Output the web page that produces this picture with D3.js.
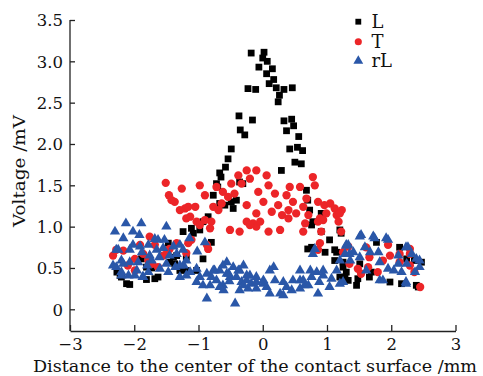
<!DOCTYPE html>
<html><head><meta charset="utf-8">
<script src="https://cdn.jsdelivr.net/npm/d3@7"></script>
<style>body{margin:0;background:#fff}svg{display:block}</style>
</head><body>
<svg id="c" width="483" height="376"></svg>
<script>
const xTicks=[-3,-2,-1,0,1,2,3];
const yTicks=[0,0.5,1,1.5,2,2.5,3,3.5];
const seriesNames=["L","T","rL"];
const dataL=[[-0.18,3.10],[0.02,3.11],[0.00,3.04],[0.07,3.00],[-0.06,2.93],[0.15,2.91],[0.06,2.85],[0.17,2.78],[0.10,2.73],[0.21,2.68],[0.33,2.66],[0.46,2.68],[0.26,2.59],[0.24,2.51],[-0.23,2.67],[-0.11,2.66],[-0.37,2.34],[-0.16,2.29],[-0.35,2.17],[-0.28,2.11],[-0.49,1.94],[-0.54,1.82],[-0.58,1.72],[-0.67,1.65],[-0.65,1.60],[0.33,2.28],[0.45,2.30],[0.48,2.22],[0.37,2.16],[0.56,2.09],[0.42,1.94],[0.54,1.96],[0.62,1.92],[0.50,1.78],[0.60,1.76],[0.29,1.68],
[-0.70,1.48],[-0.77,1.38],[-0.49,1.30],[-0.59,1.26],[-0.85,1.12],[-0.93,1.06],[-1.24,0.94],[-1.08,0.92],[-0.80,0.81],[-0.93,0.61],[-1.19,0.63],[-1.19,0.47],[-0.72,1.52],[-0.36,1.54],[-0.31,1.52],[-0.46,1.22],[-0.41,1.32],[-0.67,1.28],[-1.11,0.98],[-0.98,0.96],[-1.03,0.47],
[-1.39,0.63],[-1.89,0.61],[-1.81,0.51],[-1.68,0.37],[-2.12,0.31],[-2.07,0.30],[-2.20,0.39],[-2.27,0.45],[-1.81,0.36],[-1.63,0.39],[-1.47,0.80],[-1.45,0.57],[-1.37,0.55],[-1.34,0.65],[-1.29,0.47],[-1.73,0.50],[-2.22,0.41],
[0.70,1.32],[0.73,1.20],[0.91,1.16],[0.78,1.06],[0.91,0.94],[1.04,0.84],[0.76,0.75],[0.97,0.69],[1.12,0.72],[1.20,0.96],[1.25,0.51],[1.20,0.39],[0.76,1.02],[0.70,0.73],[1.15,0.69],[1.12,0.59],[1.22,0.92],[1.25,0.57],[1.51,0.55],[1.69,0.45],[1.66,0.39],[1.46,0.29],[1.98,0.33],[2.16,0.31],[2.39,0.29],[2.13,0.75],[2.47,0.57],[2.24,0.61],[1.77,0.81],[1.28,0.39],[1.48,0.37],[1.30,0.45],[1.33,0.35],[2.36,0.59],[2.42,0.27],[0.68,1.44]];
const dataT=[[-1.51,1.53],[-1.26,1.46],[-0.98,1.50],[-1.46,1.38],[-1.37,1.30],[-1.21,1.22],[-1.13,1.12],[-1.03,1.06],[-0.80,1.06],[-0.72,1.48],[-0.62,1.42],[-0.49,1.52],[-0.38,1.62],[-0.25,1.68],[-0.10,1.68],[-0.20,1.58],[-0.33,1.52],[-0.54,1.36],[-0.44,1.40],[-0.64,1.28],[-0.77,1.24],[-0.69,1.20],[-0.25,1.26],[0.06,1.62],[0.09,1.50],[-0.07,1.42],[0.01,1.30],[0.19,1.40],[0.24,1.26],[0.14,1.18],[0.42,1.48],[0.37,1.38],[0.47,1.30],[0.40,1.20],[0.58,1.48],[0.78,1.60],[0.81,1.50],[0.68,1.34],[0.63,1.24],[0.52,1.16],[0.71,1.14],[0.86,1.30],[0.96,1.26],[1.05,1.28],[1.12,1.22],[1.23,1.20],[0.99,1.16],[1.15,1.14],[0.89,1.10],[0.94,1.08],[0.30,1.14],[0.40,1.10],[-0.10,1.16],[-0.25,1.06],[-0.15,1.04],
[-0.90,1.38],[-1.16,1.24],[-1.05,1.24],[-0.98,1.02],[-0.90,1.08],[-0.82,0.98],[-1.11,0.84],[-0.87,0.78],[-0.85,0.73],[-1.19,0.68],[-0.10,1.00],[-0.36,0.94],[-0.51,0.96],[0.09,0.94],[-0.20,1.02],[-0.04,1.06],
[0.27,0.96],[0.63,0.94],[0.86,1.06],[1.18,1.06],[1.22,0.94],[0.89,0.80],[0.86,0.72],[1.33,0.76],
[-1.29,1.20],[-1.19,1.10],[-1.76,0.88],[-2.33,0.65],[-2.17,0.71],[-1.99,0.61],[-1.86,0.67],[-2.10,0.53],[-1.99,0.47],[-1.45,0.73],[-1.68,0.78],[-1.91,0.78],[-1.63,0.51],[-1.78,0.59],[-1.50,0.67],[-1.34,0.80],[-1.16,0.80],[-2.28,0.72],[-1.55,0.65],[-1.72,0.55],[-1.42,1.32],
[1.20,1.16],[0.66,1.04],[0.91,0.94],[1.25,0.69],[1.35,0.55],[1.48,0.49],[1.64,0.51],[1.66,0.63],[1.87,0.59],[1.98,0.65],[2.13,0.67],[2.29,0.67],[2.13,0.57],[2.29,0.53],[2.45,0.27],[1.61,0.75],[1.79,0.45],[1.53,0.43],[1.95,0.78],[2.29,0.73],[2.36,0.45]];
const dataRL=[[-2.30,0.94],[-2.13,1.04],[-1.89,1.04],[-2.02,0.94],[-1.91,0.76],[-1.68,0.85],[-2.28,0.72],[-2.28,0.51],[-2.20,0.41],[-1.99,0.41],[-1.87,0.39],[-2.17,0.55],[-1.50,1.00],[-1.92,0.90],[-2.17,0.86],[-1.63,0.84],[-1.53,0.84],[-1.78,0.78],[-2.02,0.78],[-1.29,0.78],[-1.39,0.76],[-2.25,0.72],[-2.07,0.72],[-1.65,0.72],[-1.55,0.74],[-1.88,0.69],[-1.76,0.65],[-1.61,0.63],[-1.45,0.65],[-2.20,0.59],[-2.07,0.57],[-1.94,0.57],[-1.73,0.59],[-1.50,0.55],[-2.33,0.53],[-1.80,0.53],[-1.60,0.49],[-1.36,0.51],[-1.23,0.53],[-2.20,0.45],[-1.96,0.47],[-1.78,0.45],[-1.47,0.45],[-2.09,0.41],[-1.86,0.39],[-1.29,0.39],[-1.19,0.41],[-1.34,0.67],[-1.24,0.72],[-0.90,0.81],[-1.14,0.86],[-1.02,0.70],[-1.19,0.59],[-1.29,0.53],[-1.03,0.49],[-1.13,0.45],[-0.98,0.39],[-0.87,0.43],[-1.03,0.33],[-0.80,0.39],[-0.93,0.29],[-0.82,0.29],
[-0.75,0.47],[-0.56,0.57],[-0.67,0.47],[-0.72,0.35],[-0.62,0.29],[-0.46,0.51],[-0.30,0.53],[-0.51,0.39],[-0.41,0.39],[-0.33,0.33],[-0.87,0.13],[-0.43,0.07],[-0.25,0.35],[-0.18,0.31],[-0.10,0.39],[0.01,0.31],[-0.36,0.23],[-0.23,0.25],[-0.10,0.25],[0.06,0.27],[0.17,0.51],[0.19,0.35],[0.11,0.19],[0.27,0.19],[0.32,0.33],[0.37,0.27],[0.45,0.23],[0.47,0.35],[0.58,0.35],[0.65,0.29],[0.58,0.25],[0.76,0.39],[0.84,0.45],[0.78,0.67],[0.81,0.73],[0.01,0.35],[-0.61,0.23],[-0.53,0.43],[-0.36,0.47],[-0.52,0.34],[-0.20,0.41],[0.32,0.17],[0.58,0.47],[0.71,0.29],[0.94,0.41],[0.88,0.33],[1.07,0.37],[1.15,0.47],[1.20,0.59],[1.28,0.67],[1.30,0.77],[0.86,0.19],[1.04,0.27],[1.20,0.31],[0.63,0.35],[0.74,0.47],[0.94,0.47],[-0.77,0.47],[-0.62,0.53],[-0.56,0.43],[-0.38,0.47],[-0.25,0.41],[-0.67,0.27],[-0.30,0.29],[-0.10,0.33],[0.11,0.47],
[1.51,0.88],[1.72,0.88],[1.95,0.84],[1.30,0.78],[1.59,0.75],[2.26,0.75],[1.41,0.69],[1.67,0.69],[1.80,0.69],[2.11,0.65],[2.32,0.67],[2.39,0.61],[1.36,0.59],[1.82,0.57],[2.11,0.55],[2.24,0.55],[2.44,0.51],[1.61,0.47],[2.16,0.45],[2.37,0.45],[1.87,0.35],[2.23,0.33],[1.25,0.33],[2.04,0.47],[1.53,0.90],[1.74,0.86],[1.92,0.86],[2.23,0.75],[1.33,0.78],[1.35,0.67],[1.51,0.63],[1.95,0.49],[1.82,0.35],[2.23,0.31],[2.44,0.59]];

const FONT="'DejaVu Serif','Liberation Serif',serif";
const svg=d3.select("#c");
const x=d3.scaleLinear().domain([-3,3]).range([70,455.5]);
const y=d3.scaleLinear().domain([0,3.5]).range([309.3,20]);
const yBottom=331;

// axes
const gx=svg.append("g").attr("transform",`translate(0,${yBottom})`)
  .call(d3.axisBottom(x).tickValues(xTicks).tickSizeInner(-6).tickSizeOuter(0).tickPadding(7).tickFormat(d=>d<0?"\u2212"+Math.abs(d):String(d)));
const gy=svg.append("g").attr("transform","translate(70,0)")
  .call(d3.axisLeft(y).tickValues(yTicks).tickSizeInner(-5).tickSizeOuter(0).tickPadding(7).tickFormat(d=>d===0?"0":d3.format(".1f")(d)));
gy.select(".domain").attr("d",`M0,${yBottom}V${y(3.5)}`);
[gx,gy].forEach(g=>{
  g.attr("font-family",FONT).attr("font-size",16.5);
  g.selectAll("path,line").attr("stroke","#222").attr("stroke-width",1.3);
  g.selectAll("text").attr("fill","#111");
});
gx.selectAll("text").attr("dy","0.72em");
gy.selectAll("text").attr("dy","0.36em");

// titles
svg.append("text").attr("x",255).attr("y",372).attr("text-anchor","middle").attr("font-size",16.5).attr("font-family",FONT).attr("fill","#111")
  .attr("textLength",444).attr("lengthAdjust","spacingAndGlyphs")
  .text("Distance to the center of the contact surface /mm");
svg.append("text").attr("transform","translate(25,171) rotate(-90)").attr("text-anchor","middle").attr("font-size",17).attr("font-family",FONT).attr("fill","#111")
  .attr("textLength",112).attr("lengthAdjust","spacingAndGlyphs").text("Voltage /mV");

// marks
const styles={
  L:{data:dataL,sym:d3.symbolSquare,size:46,fill:"#000"},
  T:{data:dataT,sym:d3.symbolCircle,size:54,fill:"#ec2528"},
  rL:{data:dataRL,sym:d3.symbolTriangle,size:46,fill:"#2a57a8"}
};
seriesNames.forEach(n=>{
  const s=styles[n];
  svg.append("g").selectAll("path").data(s.data).join("path")
    .attr("d",d3.symbol(s.sym,s.size))
    .attr("transform",d=>`translate(${x(d[0])},${y(d[1])})`)
    .attr("fill",s.fill);
});

// legend
const leg=svg.append("g");
const legY=[21.7,41.7,61];
seriesNames.forEach((n,i)=>{
  const s=styles[n];
  leg.append("path").attr("d",d3.symbol(s.sym,n==="L"?34:n==="T"?40:42)).attr("transform",`translate(358.3,${legY[i]})`).attr("fill",s.fill);
  leg.append("text").attr("x",371.5).attr("y",legY[i]+6).attr("font-size",18).attr("font-family",FONT).attr("fill","#111").text(n);
});
</script>
</body></html>
